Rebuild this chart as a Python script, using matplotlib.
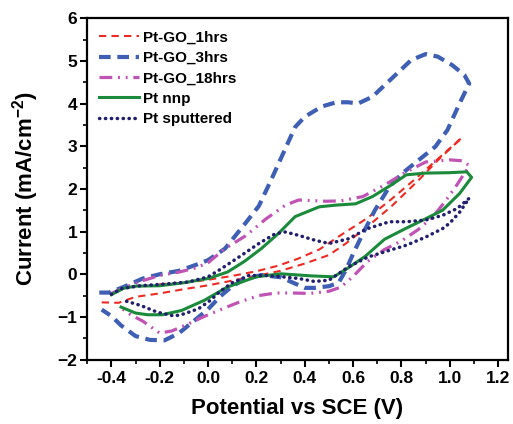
import numpy as np
import matplotlib
matplotlib.use('Agg')
import matplotlib.pyplot as plt

plt.rcParams['font.family'] = ['Liberation Sans', 'DejaVu Sans']
plt.rcParams['font.weight'] = 'bold'
plt.rcParams['mathtext.fontset'] = 'custom'
plt.rcParams['mathtext.bf'] = 'Liberation Sans:bold'
plt.rcParams['mathtext.rm'] = 'Liberation Sans:bold'
plt.rcParams['mathtext.default'] = 'bf'

# Pt-GO_1hrs (two branches meeting at the vertex)
go1_x = [-0.44, -0.37, -0.30, -0.20, -0.10, 0.00, 0.10, 0.20, 0.30, 0.40, 0.50, 0.57, 0.66, 0.76, 0.87, 0.95, 1.05,
         0.95, 0.85, 0.75, 0.66, 0.55, 0.46, 0.37, 0.29, 0.20, 0.10, 0.00, -0.10, -0.22]
go1_y = [-0.66, -0.67, -0.53, -0.45, -0.35, -0.26, -0.15, -0.04, 0.08, 0.25, 0.45, 0.72, 1.12, 1.60, 2.20, 2.67, 3.20,
         2.70, 2.20, 1.72, 1.32, 0.92, 0.58, 0.36, 0.20, 0.07, -0.04, -0.13, -0.20, -0.24]

# Pt-GO_3hrs
go3_x = [-0.45, -0.41, -0.35, -0.27, -0.20, -0.12, -0.05, 0.00, 0.07, 0.155, 0.21, 0.26, 0.32, 0.36, 0.40, 0.47, 0.53,
         0.58, 0.62, 0.68, 0.73, 0.79, 0.84, 0.90, 0.95, 1.01, 1.06, 1.08,
         1.04, 0.99, 0.94, 0.87, 0.80, 0.75, 0.69, 0.64, 0.60, 0.57, 0.54, 0.50, 0.44, 0.40, 0.36, 0.30, 0.22, 0.15,
         0.10, 0.05, 0.00, -0.06, -0.12, -0.18, -0.24, -0.30, -0.36, -0.40, -0.44]
go3_y = [-0.43, -0.43, -0.30, -0.10, 0.00, 0.08, 0.22, 0.33, 0.60, 1.20, 1.60, 2.20, 2.95, 3.45, 3.69, 3.93, 4.03,
         4.03, 4.00, 4.16, 4.43, 4.75, 5.02, 5.16, 5.10, 4.90, 4.67, 4.47,
         4.00, 3.38, 2.99, 2.67, 2.35, 2.05, 1.50, 0.95, 0.48, 0.10, -0.20, -0.28, -0.32, -0.32, -0.22, -0.07, -0.02, -0.12,
         -0.28, -0.52, -0.82, -1.10, -1.38, -1.55, -1.54, -1.45, -1.20, -0.98, -0.83]

# Pt-GO_18hrs
go18_x = [-0.40, -0.34, -0.27, -0.20, -0.12, -0.05, 0.00, 0.07, 0.155, 0.24, 0.32, 0.375, 0.49, 0.55, 0.64, 0.73,
          0.82, 0.90, 1.00, 1.05, 1.08, 1.07, 1.03, 0.98, 0.93, 0.87, 0.80, 0.73, 0.66, 0.60, 0.55, 0.50, 0.42,
          0.35, 0.28, 0.21, 0.13, 0.06, -0.02, -0.08, -0.15, -0.20, -0.27, -0.32, -0.37]
go18_y = [-0.45, -0.30, -0.15, -0.03, 0.05, 0.15, 0.27, 0.60, 0.90, 1.30, 1.62, 1.74, 1.71, 1.72, 1.82, 2.09,
          2.40, 2.63, 2.68, 2.66, 2.55, 2.45, 2.10, 1.70, 1.35, 1.05, 0.78, 0.58, 0.30, -0.05, -0.30, -0.40, -0.45,
          -0.44, -0.44, -0.50, -0.65, -0.81, -1.00, -1.16, -1.33, -1.38, -1.10, -0.95, -0.75]

# Pt nnp
nnp_x = [-0.40, -0.35, -0.30, -0.20, -0.10, 0.00, 0.08, 0.15, 0.22, 0.29, 0.36, 0.46, 0.53, 0.61, 0.68, 0.76, 0.82,
         0.90, 1.00, 1.07, 1.09, 1.04, 0.97, 0.90, 0.82, 0.73, 0.65, 0.58, 0.52, 0.43, 0.30, 0.20, 0.13, 0.08,
         -0.015, -0.11, -0.19, -0.25, -0.30, -0.36]
nnp_y = [-0.48, -0.33, -0.28, -0.27, -0.20, -0.10, 0.05, 0.30, 0.60, 0.95, 1.35, 1.58, 1.62, 1.65, 1.82, 2.10, 2.33,
         2.37, 2.38, 2.40, 2.27, 1.89, 1.50, 1.30, 1.08, 0.82, 0.42, 0.15, -0.06, -0.04, 0.01, -0.06, -0.20, -0.30,
         -0.61, -0.85, -0.95, -0.95, -0.91, -0.77]

# Pt sputtered
sp_x = [-0.40, -0.36, -0.28, -0.18, -0.08, 0.00, 0.044, 0.127, 0.21, 0.278, 0.32, 0.375, 0.44, 0.50, 0.58, 0.66, 0.75,
        0.82, 0.90, 0.97, 1.03, 1.08, 1.04, 1.00, 0.97, 0.90, 0.82, 0.75, 0.66, 0.58, 0.50, 0.44, 0.375, 0.306,
        0.237, 0.168, 0.10, 0.05, 0.01, -0.04, -0.10, -0.14, -0.21, -0.28, -0.34]
sp_y = [-0.47, -0.34, -0.27, -0.23, -0.18, -0.06, 0.09, 0.40, 0.72, 0.95, 0.99, 0.91, 0.80, 0.72, 0.83, 1.07, 1.23,
        1.23, 1.27, 1.38, 1.54, 1.78, 1.45, 1.20, 1.07, 0.87, 0.68, 0.56, 0.40, 0.17, -0.14, -0.17, -0.10, -0.06,
        -0.03, -0.03, -0.20, -0.40, -0.61, -0.81, -0.93, -0.98, -0.89, -0.73, -0.63]

fig = plt.figure(figsize=(5.13, 4.24), dpi=100)
ax = fig.add_axes([0.170, 0.152, 0.820, 0.805])

ax.plot(go1_x, go1_y, color='#ee2a24', lw=1.5, dashes=(3.5, 2.5), label='Pt-GO_1hrs')
ax.plot(go3_x, go3_y, color='#3f5fb5', lw=3.0, dashes=(2.8, 1.6), label='Pt-GO_3hrs')
ax.plot(go18_x, go18_y, color='#c054b4', lw=2.3, dashes=(4, 1.8, 0.6, 1.8, 0.6, 1.8), label='Pt-GO_18hrs')
ax.plot(nnp_x, nnp_y, color='#1b8a3b', lw=2.2, label='Pt nnp')
ax.plot(sp_x, sp_y, color='#22206e', lw=2.5, dashes=(0.1, 1.6), dash_capstyle='round', label='Pt sputtered')

ax.set_xlim(-0.5, 1.24)
ax.set_ylim(-2, 6)
ax.set_xticks(np.arange(-0.4, 1.21, 0.2))
ax.set_xticks(np.arange(-0.5, 1.21, 0.1), minor=True)
ax.set_yticks(np.arange(-2, 7, 1))
ax.set_yticks(np.arange(-2, 6.1, 0.5), minor=True)
ax.set_xticklabels(['-0.4', '-0.2', '0.0', '0.2', '0.4', '0.6', '0.8', '1.0', '1.2'])
ax.tick_params(which='major', direction='out', length=5, width=1.5, labelsize=12.5, pad=3)
ax.tick_params(which='minor', direction='out', length=3, width=1.2)
ax.tick_params(axis='y', pad=2)
for s in ax.spines.values():
    s.set_linewidth(1.6)

ax.set_xlabel('Potential vs SCE (V)', fontsize=16, fontweight='bold', labelpad=9)
ax.set_ylabel(r'Current (mA/cm$^{-2}$)', fontsize=16, fontweight='bold', labelpad=12)

ax.legend(loc='upper left', frameon=False, handlelength=2.6, handletextpad=0.25,
          labelspacing=0.42, borderaxespad=0.4, prop={'weight': 'bold', 'size': 11})

plt.savefig('out.png', dpi=100)
